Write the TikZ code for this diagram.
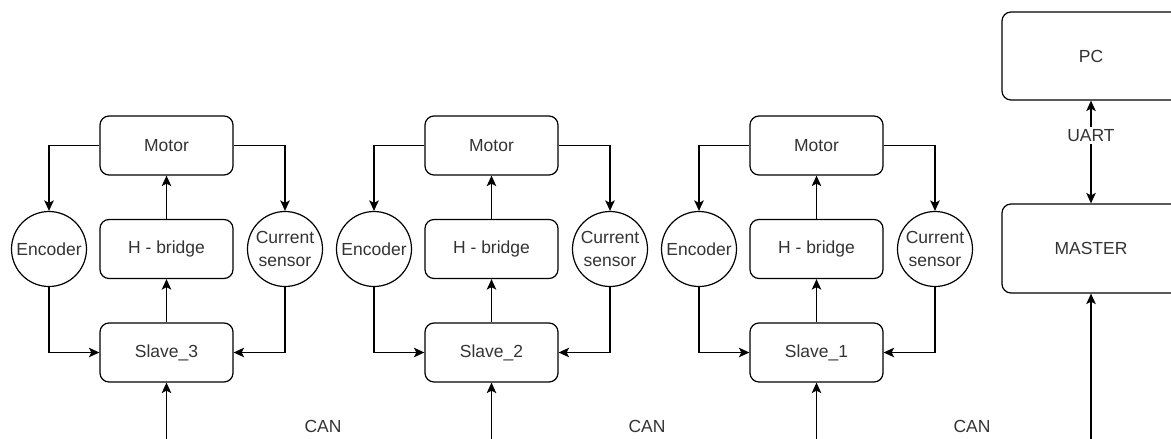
\documentclass[tikz,border=0pt]{standalone}
\usepackage{fontspec}
\setmainfont{Liberation Sans}
\usetikzlibrary{arrows.meta}
\tikzset{
  arr/.style={line width=1.4pt, -{Stealth[length=10.5pt,width=9.5pt,inset=2.5pt]}},
  darr/.style={line width=1.4pt, {Stealth[length=10.5pt,width=9.5pt,inset=2.5pt]}-{Stealth[length=10.5pt,width=9.5pt,inset=2.5pt]}},
  blk/.style={draw, line width=1.2pt, rounded corners=9pt, minimum width=133pt, minimum height=59pt, inner sep=0pt},
  sens/.style={draw, circle, line width=1.2pt, minimum size=75pt, inner sep=0pt, align=center},
  lbl/.style={text=black!80, font=\fontsize{17.5}{23}\selectfont},
}
\begin{document}
\begin{tikzpicture}[x=1pt, y=-1pt, every node/.append style={lbl}]
\useasboundingbox (0,0) rectangle (1171,439);
\clip (0,0) rectangle (1171,439);

% three identical slave branches
\foreach \dx/\n in {0/3, 325/2, 650/1} {
  \node[blk] (motor\n) at (166.5+\dx,145.5) {Motor};
  \node[blk] (hb\n)    at (166.5+\dx,249)   {H - bridge};
  \node[blk] (slave\n) at (166.5+\dx,352.5) {Slave\_\n};
  \node[sens] (enc\n)  at (49+\dx,249)      {Encoder};
  \node[sens] (cur\n)  at (285+\dx,249)     {Current\\sensor};
  \coordinate (bus\n) at (166.5+\dx,450);

  \draw[arr] (motor\n.west) -| (enc\n.north);
  \draw[arr] (motor\n.east) -| (cur\n.north);
  \draw[arr] (enc\n.south) |- (slave\n.west);
  \draw[arr] (cur\n.south) |- (slave\n.east);
  \draw[arr] (slave\n.north) -- (hb\n.south);
  \draw[arr] (hb\n.north) -- (motor\n.south);
  \draw[arr] (bus\n) -- (slave\n.south);
}

% master and host PC
\node[blk, minimum width=178pt, minimum height=88pt] (pc) at (1091,56) {PC};
\node[blk, minimum width=178pt, minimum height=89pt] (master) at (1091,248.5) {MASTER};
\coordinate (busM) at (1091,450);
\draw[darr] (pc.south) -- node[pos=0.34, fill=white, inner sep=2pt] (uart) {UART} (master.north);
\draw[arr] (busM) -- (master.south);

% bus labels
\node (can1) at (323,426) {CAN};
\node (can2) at (647,426) {CAN};
\node (can3) at (972,426) {CAN};
\end{tikzpicture}
\end{document}
